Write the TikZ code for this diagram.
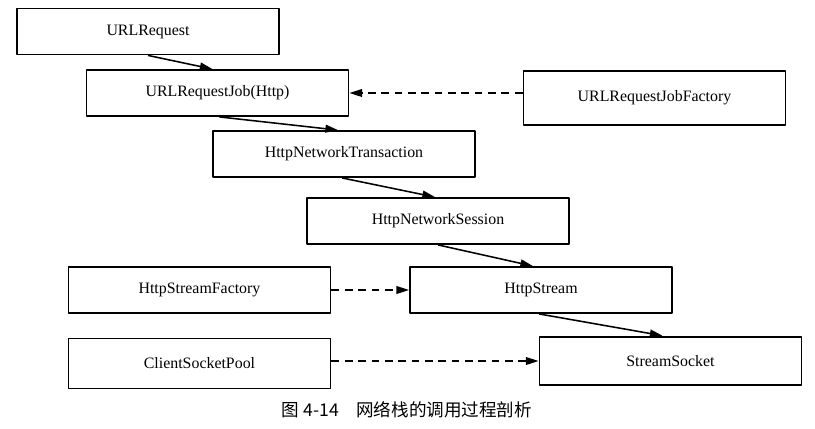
\documentclass[tikz,border=0pt]{standalone}
\usepackage{fontspec}
\setmainfont{Liberation Serif}
\newfontfamily\cjkfont{Noto Sans CJK SC}
\usepackage{tikz}
\usetikzlibrary{calc, arrows.meta, positioning}

\begin{document}
\begin{tikzpicture}[x=0.025cm, y=-0.025cm, line join=round,
    >={Triangle[length=9pt, width=5.5pt]},
    box/.style={draw, line width=1.3pt, minimum width=6.55cm, minimum height=1.15cm,
        inner sep=0pt, font=\fontsize{11.3}{13}\selectfont},
    call/.style={->, line width=1.1pt},
    dep/.style={->, line width=1.1pt, dash pattern=on 5.5pt off 4pt}]
    \useasboundingbox (0,0) rectangle (815,428);

    % 方框
    \node[box] (req)   at (148,31.5)  {URLRequest};
    \node[box] (job)   at (217.5,93)  {URLRequestJob(Http)};
    \node[box, minimum height=1.37cm] (fac) at (654.5,98) {URLRequestJobFactory};
    \node[box] (trans) at (344,154)   {HttpNetworkTransaction};
    \node[box] (sess)  at (438,221)   {HttpNetworkSession};
    \node[box] (hsf)   at (199.5,290) {HttpStreamFactory};
    \node[box] (strm)  at (541,290)   {HttpStream};
    \node[box, minimum height=1.25cm] (csp)  at (199.5,363.5) {ClientSocketPool};
    \node[box, minimum height=1.22cm] (sock) at (670.5,361) {StreamSocket};

    % 调用箭头
    \draw[call] (req.south) -- ($(job.north)+(-5,0)$);
    \draw[call] ($(job.south)+(2,0)$) -- ($(trans.north)+(-6,0)$);
    \draw[call] ($(trans.south)+(-2,0)$) -- ($(sess.north)+(-3,0)$);
    \draw[call] (sess.south) -- ($(strm.north)+(-8,0)$);
    \draw[call] ($(strm.south)+(-2,0)$) -- ($(sock.north)+(-8,0)$);

    % 虚线箭头
    \draw[dep] (fac.west |- job) -- (job.east);
    \draw[dep] (hsf.east) -- (strm.west);
    \draw[dep] (csp.east |- sock) -- (sock.west);

    % 图注
    \node[font=\cjkfont\fontsize{12.5}{14}\selectfont] (cap) at (407,410)
        {图 4-14\quad 网络栈的调用过程剖析};
\end{tikzpicture}
\end{document}
